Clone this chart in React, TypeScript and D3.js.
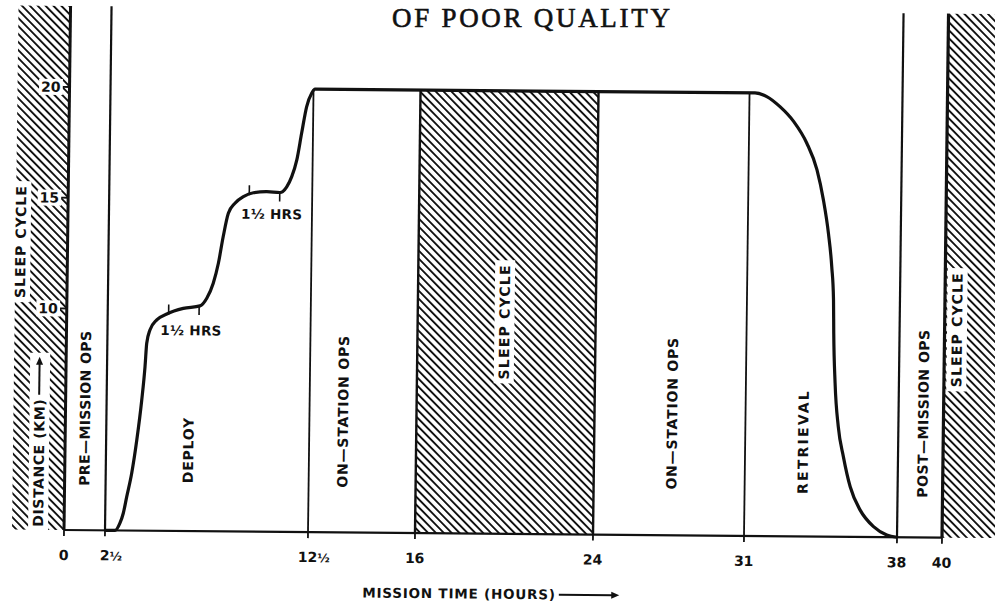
import React, { useEffect, useRef } from "react";
import * as d3 from "d3";

// ---------- data ----------
// Tether deployment profile: mission time (hours) vs distance (km)
const missionHours = [
  2.5, 2.99, 3.23, 3.39, 3.55, 3.78, 4.01, 4.23, 4.37, 4.44,
  4.59, 4.92, 5.41, 6.22, 7.04, 7.37, 7.68, 7.92, 8.14, 8.38,
  8.7, 9.11, 9.6, 10.26, 10.91, 11.24, 11.48, 11.72, 11.94, 12.17,
  12.41, 12.55, 31.25, 31.79, 32.4, 33.04, 33.65, 34.13, 34.44, 34.69,
  34.86, 34.96, 34.99, 35.08, 35.25, 35.5, 35.83, 36.3, 36.92, 37.53,
  38,
];
const distanceKm = [
  0, 0, 0.33, 0.78, 1.53, 2.59, 4.09, 5.9, 7.4, 8.46,
  9.06, 9.52, 9.79, 10.05, 10.17, 10.52, 11.2, 12.1, 13.3, 14.36,
  14.82, 15.12, 15.3, 15.35, 15.32, 15.58, 16.04, 16.8, 18.0, 19.2,
  19.81, 20, 20, 19.84, 19.39, 18.72, 17.75, 16.55, 15.2, 13.69,
  12.19, 10.69, 9.18, 6.93, 4.97, 3.62, 2.26, 1.21, 0.47, 0.1,
  0,
];

const xTickValues = [0, 2.5, 12.5, 16, 24, 31, 38, 40];
const xTickLabels = ["0", "2½", "12½", "16", "24", "31", "38", "40"];
const yTickValues = [10, 15, 20];
const yTickLabels = ["10", "15", "20"];

const fullHeightBoundaries = [2.5, 38];
const stationBoundaries = [12.5, 31];
const sleepPeriod = [16, 24];
const maxDistance = 20;

const phaseNames = [
  "PRE—MISSION OPS",
  "DEPLOY",
  "ON—STATION OPS",
  "SLEEP CYCLE",
  "ON—STATION OPS",
  "RETRIEVAL",
  "POST—MISSION OPS",
  "SLEEP CYCLE",
];
const phaseHours = [1.2, 6.55, 13.6, 19.9, 27.6, 33.65, 39.1, 40.55];
const phaseInSleep = [false, false, false, true, false, false, false, true];

const holdStartHours = [5.5, 9.4];
const holdEndHours = [7.0, 10.9];
const holdLabel = "1½ HRS";

const titleText = "OF POOR QUALITY";
const xAxisTitle = "MISSION TIME (HOURS)";
const yAxisTitle = "DISTANCE (KM)";
const leftSleepLabel = "SLEEP CYCLE";

// ---------- layout ----------
const W = 995;
const H = 610;
const X_RANGE = [64, 105, 308, 415, 593, 744, 897, 942];
const Y_BASE = 530;
const Y_TOP_VAL = 87;
const TOP = 6;
const LEFT_STRIP = 12;
const phaseLabelY = [408, 449, 409, 318, 408, 435, 406, 322];
const phaseSpacing = [0.4, 0.8, 0.8, 1.2, 0.8, 2.2, 0.5, 1.2];
// slight skew of the scanned page
const SKEW = "matrix(1,0.0087,-0.0125,1,6.625,-0.557)";
const FONT = "'DejaVu Sans', Verdana, sans-serif";
const INK = "#111";

export default function App() {
  const ref = useRef<SVGSVGElement>(null);

  useEffect(() => {
    const svg = d3.select(ref.current as SVGSVGElement);
    svg.selectAll("*").remove();

    const x = d3.scaleLinear().domain(xTickValues).range(X_RANGE);
    const y = d3.scaleLinear().domain([0, maxDistance]).range([Y_BASE, Y_TOP_VAL]);

    const defs = svg.append("defs");
    defs
      .append("pattern")
      .attr("id", "hatch")
      .attr("patternUnits", "userSpaceOnUse")
      .attr("width", 5.6)
      .attr("height", 10)
      .attr("patternTransform", "rotate(-45)")
      .append("rect")
      .attr("x", 0)
      .attr("y", 0)
      .attr("width", 1.9)
      .attr("height", 10)
      .attr("fill", INK);

    svg.append("rect").attr("width", W).attr("height", H).attr("fill", "#fff");

    // title stamp (not skewed)
    svg
      .append("text")
      .attr("x", 392)
      .attr("y", 27)
      .attr("font-family", "'Liberation Serif', 'Times New Roman', serif")
      .attr("font-size", 27)
      .attr("textLength", 278)
      .attr("lengthAdjust", "spacing")
      .attr("fill", INK)
      .attr("stroke", INK)
      .attr("stroke-width", 0.6)
      .text(titleText);

    const g = svg.append("g").attr("transform", SKEW);

    // hatched sleep regions
    const hatchRects = [
      { x0: LEFT_STRIP, x1: x(0), y0: TOP },
      { x0: x(sleepPeriod[0]), x1: x(sleepPeriod[1]), y0: y(maxDistance) },
      { x0: x(40), x1: W + 30, y0: TOP },
    ];
    g.selectAll("rect.hatch")
      .data(hatchRects)
      .join("rect")
      .attr("class", "hatch")
      .attr("x", (d) => d.x0)
      .attr("y", (d) => d.y0)
      .attr("width", (d) => d.x1 - d.x0)
      .attr("height", (d) => Y_BASE - d.y0)
      .attr("fill", "url(#hatch)");

    const vline = (xv: number, y0: number, w: number) =>
      g
        .append("line")
        .attr("x1", xv)
        .attr("x2", xv)
        .attr("y1", y0)
        .attr("y2", Y_BASE)
        .attr("stroke", INK)
        .attr("stroke-width", w);

    vline(x(0), TOP, 3);
    vline(x(40), TOP, 3.2);
    fullHeightBoundaries.forEach((h) => vline(x(h), TOP, 2.2));
    stationBoundaries.forEach((h) => vline(x(h), y(maxDistance), 1.8));
    sleepPeriod.forEach((h) => vline(x(h), y(maxDistance), 2.4));

    // baseline
    g.append("line")
      .attr("x1", x(0))
      .attr("x2", x(40))
      .attr("y1", Y_BASE)
      .attr("y2", Y_BASE)
      .attr("stroke", INK)
      .attr("stroke-width", 2.2);

    // x ticks
    xTickValues.forEach((v, i) => {
      g.append("line")
        .attr("x1", x(v))
        .attr("x2", x(v))
        .attr("y1", Y_BASE)
        .attr("y2", Y_BASE + 6)
        .attr("stroke", INK)
        .attr("stroke-width", 1.8);
      const lab = xTickLabels[i];
      const hasHalf = lab.endsWith("½");
      const intPart = hasHalf ? lab.slice(0, -1) : lab;
      const t = g
        .append("text")
        .attr("x", x(v))
        .attr("y", Y_BASE + 30)
        .attr("text-anchor", "middle")
        .attr("font-family", FONT)
        .attr("font-weight", "bold")
        .attr("font-size", 14)
        .attr("fill", INK)
        .text(intPart);
      if (hasHalf) {
        const bb = (t.node() as SVGTextElement).getBBox();
        g.append("text")
          .attr("x", bb.x + bb.width)
          .attr("y", Y_BASE + 30)
          .attr("font-family", FONT)
          .attr("font-weight", "bold")
          .attr("font-size", 12)
          .attr("fill", INK)
          .text("½");
      }
    });

    // y ticks and labels (white backing over hatch)
    yTickValues.forEach((v, i) => {
      g.append("line")
        .attr("x1", x(0) - 7)
        .attr("x2", x(0))
        .attr("y1", y(v))
        .attr("y2", y(v))
        .attr("stroke", INK)
        .attr("stroke-width", 1.8);
      const t = g
        .append("text")
        .attr("x", x(0) - 9)
        .attr("y", y(v))
        .attr("dy", "0.36em")
        .attr("text-anchor", "end")
        .attr("font-family", FONT)
        .attr("font-weight", "bold")
        .attr("font-size", 14)
        .attr("fill", INK)
        .text(yTickLabels[i]);
      const bb = (t.node() as SVGTextElement).getBBox();
      g.insert("rect", () => t.node() as SVGTextElement)
        .attr("x", bb.x - 2)
        .attr("y", bb.y)
        .attr("width", bb.width + 4)
        .attr("height", bb.height)
        .attr("fill", "#fff");
    });

    // rotated label helper
    const vLabel = (
      cx: number,
      cy: number,
      text: string,
      anchor: string,
      spacing: number,
      bg: boolean
    ) => {
      const gg = g.append("g").attr("transform", `translate(${cx},${cy}) rotate(-90)`);
      const t = gg
        .append("text")
        .attr("x", 0)
        .attr("y", 0)
        .attr("dy", "0.36em")
        .attr("text-anchor", anchor)
        .attr("font-family", FONT)
        .attr("font-weight", "bold")
        .attr("font-size", 14)
        .attr("letter-spacing", spacing)
        .attr("fill", INK)
        .text(text);
      const bb = (t.node() as SVGTextElement).getBBox();
      if (bg) {
        gg.insert("rect", "text")
          .attr("x", bb.x - 4)
          .attr("y", bb.y - 2)
          .attr("width", bb.width + 8)
          .attr("height", bb.height + 4)
          .attr("fill", "#fff");
      }
      return { gg, bb };
    };

    // phase labels
    phaseNames.forEach((name, i) => {
      vLabel(x(phaseHours[i]), phaseLabelY[i], name, "middle", phaseSpacing[i], phaseInSleep[i]);
    });

    // left strip labels
    vLabel(17, 242, leftSleepLabel, "middle", 1.0, true);
    const dist = vLabel(38, 527, yAxisTitle, "start", 0.6, true);
    {
      const gg = dist.gg;
      const end = 527 - 357;
      const start = dist.bb.width + 4;
      gg.insert("rect", "text")
        .attr("x", dist.bb.width - 2)
        .attr("y", dist.bb.y - 2)
        .attr("width", end - dist.bb.width + 6)
        .attr("height", dist.bb.height + 4)
        .attr("fill", "#fff");
      gg.append("line")
        .attr("x1", start)
        .attr("x2", end - 6)
        .attr("y1", -0.5)
        .attr("y2", -0.5)
        .attr("stroke", INK)
        .attr("stroke-width", 2);
      gg.append("path")
        .attr("d", `M${end},-0.5 L${end - 8},-4 L${end - 8},3 Z`)
        .attr("fill", INK);
    }

    // x-axis title with arrow
    {
      const t = g
        .append("text")
        .attr("x", 363)
        .attr("y", 595)
        .attr("font-family", FONT)
        .attr("font-weight", "bold")
        .attr("font-size", 13.5)
        .attr("letter-spacing", 0.8)
        .attr("fill", INK)
        .text(xAxisTitle);
      const bb = (t.node() as SVGTextElement).getBBox();
      const ay = 590.5;
      const a0 = bb.x + bb.width + 3;
      const a1 = 620;
      g.append("line")
        .attr("x1", a0)
        .attr("x2", a1 - 6)
        .attr("y1", ay)
        .attr("y2", ay)
        .attr("stroke", INK)
        .attr("stroke-width", 2);
      g.append("path")
        .attr("d", `M${a1},${ay} L${a1 - 8},${ay - 3.5} L${a1 - 8},${ay + 3.5} Z`)
        .attr("fill", INK);
    }

    // distance profile
    const pts: [number, number][] = missionHours.map((h, i) => [h, distanceKm[i]]);
    const line = d3
      .line<[number, number]>()
      .x((d) => x(d[0]))
      .y((d) => y(d[1]))
      .curve(d3.curveMonotoneX);
    g.append("path")
      .attr("d", line(pts) as string)
      .attr("fill", "none")
      .attr("stroke", INK)
      .attr("stroke-width", 3.2)
      .attr("stroke-linejoin", "round");

    // hold annotations
    const kmAt = (h: number) => {
      const i = Math.max(1, Math.min(missionHours.length - 1, d3.bisectRight(missionHours, h)));
      const h0 = missionHours[i - 1];
      const h1 = missionHours[i];
      const t = (h - h0) / (h1 - h0);
      return distanceKm[i - 1] + t * (distanceKm[i] - distanceKm[i - 1]);
    };
    holdStartHours.forEach((hs, i) => {
      const he = holdEndHours[i];
      const ys = y(kmAt(hs));
      const ye = y(kmAt(he));
      g.append("line")
        .attr("x1", x(hs))
        .attr("x2", x(hs))
        .attr("y1", ys - 9)
        .attr("y2", ys + 1)
        .attr("stroke", INK)
        .attr("stroke-width", 1.6);
      g.append("line")
        .attr("x1", x(he))
        .attr("x2", x(he))
        .attr("y1", ye - 1)
        .attr("y2", ye + 9)
        .attr("stroke", INK)
        .attr("stroke-width", 1.6);
      const ym = y(kmAt((hs + he) / 2));
      g.append("text")
        .attr("x", x(hs) - 8)
        .attr("y", ym + 27)
        .attr("font-family", FONT)
        .attr("font-weight", "bold")
        .attr("font-size", 13.5)
        .attr("letter-spacing", 0.3)
        .attr("fill", INK)
        .text(holdLabel);
    });
  }, []);

  return (
    <svg
      ref={ref}
      width={W}
      height={H}
      style={{ position: "absolute", left: 0, top: 0, display: "block" }}
    />
  );
}
